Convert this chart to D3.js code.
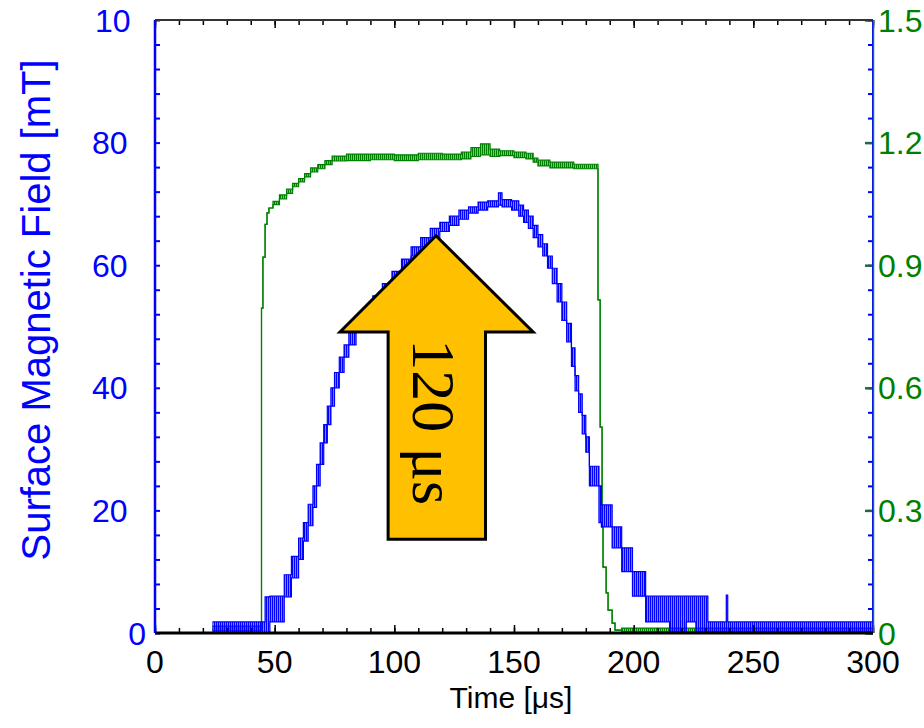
<!DOCTYPE html>
<html>
<head>
<meta charset="utf-8">
<script src="https://cdn.jsdelivr.net/npm/d3@7"></script>
<style>
  html, body { margin: 0; padding: 0; background: #fff; }
  svg { display: block; }
  text { font-family: "Liberation Sans", Arial, sans-serif; }
</style>
</head>
<body>
<svg id="chart" width="924" height="728"></svg>
<script>
// ---------------- data ----------------
// Time axis (µs)
const timeTickLabels = [0, 50, 100, 150, 200, 250, 300];
// Left axis (mT)
const leftTickLabels = [0, 20, 40, 60, 80, 100];
// Right axis
const rightTickValues = [0, 0.3, 0.6, 0.9, 1.2, 1.5];
const rightTickLabels = ["0", "0.3", "0.6", "0.9", "1.2", "1.5"];

// Surface magnetic field (mT): time, noise band low, noise band high
const blueT  = [24, 46, 48, 54, 57, 60, 62, 64, 66, 67.5, 69, 70.5, 72, 73.5, 75, 77, 79, 81, 84, 87, 91, 95, 99, 103, 107, 111, 115, 119, 123, 127, 131, 135, 139, 143.5, 145, 149, 152, 154, 156, 158, 160, 162, 164, 166, 168, 170, 172, 174, 175.5, 177, 178.5, 180, 181.5, 185.5, 186.5, 191, 195, 199.5, 205, 215, 222, 226, 231, 238.7, 239.3, 300];
const blueLo = [0, 0, 1.8, 5.9, 9, 12, 15, 17.5, 20.5, 24, 27.5, 31, 34, 37, 40, 42.5, 45, 47, 49.5, 51, 53, 55.5, 57.5, 59.5, 61.5, 63, 64.5, 65.5, 66.5, 67.5, 68.5, 69, 69.5, 69.8, 69.5, 69, 68, 67, 66, 64.5, 63, 61.5, 59.5, 57, 54, 51, 47.5, 43.5, 39.5, 36, 32.5, 29.5, 24, 18, 17.3, 13.9, 10, 6, 1.8, 0, 1.8, 0, 0, 0, 0, 0];
const blueHi = [1.8, 5.9, 6, 9.5, 12.5, 15.5, 18, 21, 24, 27.5, 31, 34, 37, 40, 42.5, 45, 47, 49.5, 51, 53, 55, 57, 59, 61, 63, 64.5, 66, 67, 68, 69, 69.5, 70.3, 70.5, 71.8, 70.7, 70.5, 69.8, 69, 68, 66.5, 65, 63.5, 61.5, 59.5, 57, 54, 50.5, 46.5, 42, 39, 35.5, 32, 27.2, 24, 20.9, 17.3, 13.9, 10, 6, 6, 6, 6, 1.8, 6.2, 1.8, 1.8];

// Second signal (right axis): time, low, high
const greenT  = [24, 44.5, 45.1, 46, 46.8, 47.6, 49.3, 52, 55, 57.5, 60, 62.5, 65, 68, 71, 74, 80, 90, 100, 110, 120, 128, 132, 136, 140, 144, 150, 155, 158, 160, 165, 175, 185.1, 186, 186.8, 187.2, 188.5, 189.3, 191, 192.2, 195, 230, 260, 300];
const greenLo = [0.005, 0.795, 0.92, 1.0, 1.028, 1.04, 1.048, 1.062, 1.076, 1.092, 1.104, 1.116, 1.128, 1.136, 1.146, 1.155, 1.156, 1.158, 1.156, 1.158, 1.158, 1.16, 1.166, 1.17, 1.166, 1.168, 1.163, 1.16, 1.152, 1.143, 1.138, 1.136, 0.815, 0.504, 0.259, 0.161, 0.098, 0.056, 0.024, 0.007, 0.003, 0.003, 0.003, 0.003];
const greenHi = [0.017, 0.795, 0.92, 1.0, 1.028, 1.04, 1.056, 1.072, 1.086, 1.1, 1.112, 1.124, 1.138, 1.146, 1.156, 1.167, 1.172, 1.172, 1.17, 1.174, 1.172, 1.177, 1.188, 1.197, 1.184, 1.18, 1.177, 1.174, 1.162, 1.157, 1.152, 1.147, 0.815, 0.504, 0.259, 0.161, 0.098, 0.056, 0.024, 0.007, 0.012, 0.012, 0.012, 0.012];

// Annotation arrow, in data units (time µs, field mT)
const arrowPts = [[117.4, 64.8], [158, 49.1], [138.1, 49.1], [138.1, 15.3], [97.4, 15.3], [97.4, 49.1], [77.3, 49.1]];
const arrowLabel = "120 μs";
const arrowLabelPos = [107.9, 34.4];

// ---------------- drawing ----------------
const svg = d3.select("#chart");
const L = 155, R = 873, T = 20, B = 633;
const x = d3.scaleLinear().domain([0, 300]).range([L, R]);
const yL = d3.scaleLinear().domain([0, 100]).range([B, T]);
const yR = d3.scaleLinear().domain([0, 1.5]).range([B, T]);

const BLUE = "#0000ff", GREEN = "#008000";

const defs = svg.append("defs");
function hatch(id, color) {
  const p = defs.append("pattern").attr("id", id).attr("patternUnits", "userSpaceOnUse")
    .attr("width", 2).attr("height", 10);
  p.append("rect").attr("x", 0).attr("y", 0).attr("width", 1.5).attr("height", 10).attr("fill", color);
}
hatch("hatchB", BLUE);
hatch("hatchG", GREEN);
defs.append("clipPath").attr("id", "leftLabClip").append("rect")
  .attr("x", 0).attr("y", 0).attr("width", 130).attr("height", 620);

const blueData = blueT.map((t, i) => ({t, lo: blueLo[i], hi: blueHi[i]}));
const greenData = greenT.map((t, i) => ({t, lo: greenLo[i], hi: greenHi[i]}));

function drawBand(data, ys, color, pat) {
  const area = d3.area().x(d => x(d.t)).y0(d => ys(d.lo)).y1(d => ys(d.hi)).curve(d3.curveStepAfter);
  svg.append("path").datum(data).attr("d", area).attr("fill", `url(#${pat})`).attr("stroke", "none");
  const lineLo = d3.line().x(d => x(d.t)).y(d => ys(d.lo)).curve(d3.curveStepAfter);
  const lineHi = d3.line().x(d => x(d.t)).y(d => ys(d.hi)).curve(d3.curveStepAfter);
  svg.append("path").datum(data).attr("d", lineLo).attr("fill", "none").attr("stroke", color).attr("stroke-width", 1.2);
  svg.append("path").datum(data).attr("d", lineHi).attr("fill", "none").attr("stroke", color).attr("stroke-width", 1.2);
}
drawBand(greenData, yR, GREEN, "hatchG");
drawBand(blueData, yL, BLUE, "hatchB");

// arrow annotation
svg.append("path")
  .attr("d", d3.line()(arrowPts.map(p => [x(p[0]), yL(p[1])])) + "Z")
  .attr("fill", "#ffc000").attr("stroke", "#000").attr("stroke-width", 3).attr("stroke-linejoin", "miter");
svg.append("text")
  .attr("transform", `translate(${x(arrowLabelPos[0])},${yL(arrowLabelPos[1])}) rotate(90)`)
  .attr("text-anchor", "middle")
  .style("font-family", "'Liberation Serif', 'Times New Roman', serif")
  .style("font-size", "62px").attr("fill", "#000")
  .text(arrowLabel);

// ---- axes ----
const minorT = d3.range(0, 301, 10);
const minorL = d3.range(0, 101, 4);
const gTop = svg.append("g").attr("transform", `translate(0,${T})`)
  .call(d3.axisTop(x).tickValues(minorT).tickSize(-5).tickFormat(""));
const gTopMaj = svg.append("g").attr("transform", `translate(0,${T})`)
  .call(d3.axisTop(x).tickValues(timeTickLabels).tickSize(-8).tickFormat(""));
const gBot = svg.append("g").attr("transform", `translate(0,${B})`)
  .call(d3.axisBottom(x).tickValues(minorT).tickSize(-5).tickFormat(""));
const gBotMaj = svg.append("g").attr("transform", `translate(0,${B})`)
  .call(d3.axisBottom(x).tickValues(timeTickLabels).tickSize(-8).tickFormat(""));
[gTop, gTopMaj, gBot, gBotMaj].forEach(g => {
  g.select(".domain").remove();
  g.selectAll(".tick line").attr("stroke", "#000").attr("stroke-width", 1.5);
});
const gLeft = svg.append("g").attr("transform", `translate(${L},0)`)
  .call(d3.axisLeft(yL).tickValues(minorL).tickSize(-5).tickFormat(""));
const gRightB = svg.append("g").attr("transform", `translate(${R},0)`)
  .call(d3.axisRight(yL).tickValues(minorL).tickSize(-5).tickFormat(""));
const gRightG = svg.append("g").attr("transform", `translate(${R},0)`)
  .call(d3.axisRight(yR).tickValues(rightTickValues).tickSize(-8).tickFormat(""));
[gLeft, gRightB].forEach(g => {
  g.select(".domain").remove();
  g.selectAll(".tick line").attr("stroke", BLUE).attr("stroke-width", 2);
});
gRightG.select(".domain").remove();
gRightG.selectAll(".tick line").attr("stroke", "#1a6a4a").attr("stroke-width", 2.5);

// axis lines
svg.append("line").attr("x1", L).attr("x2", R).attr("y1", T).attr("y2", T).attr("stroke", "#333").attr("stroke-width", 2);
svg.append("line").attr("x1", R - 0.5).attr("x2", R - 0.5).attr("y1", T).attr("y2", B).attr("stroke", BLUE).attr("stroke-width", 1);
svg.append("line").attr("x1", R + 0.5).attr("x2", R + 0.5).attr("y1", T).attr("y2", B).attr("stroke", "#1f6f5f").attr("stroke-width", 1.5);
svg.append("line").attr("x1", L).attr("x2", R).attr("y1", B).attr("y2", B).attr("stroke", "#000").attr("stroke-width", 3);
svg.append("line").attr("x1", L).attr("x2", L).attr("y1", T).attr("y2", B).attr("stroke", BLUE).attr("stroke-width", 2.5);

// tick labels
svg.append("g").selectAll("text").data(timeTickLabels).join("text")
  .attr("x", d => x(d)).attr("y", 673).attr("text-anchor", "middle")
  .style("font-size", "32px").attr("fill", "#000").text(d => d);

const gLL = svg.append("g").attr("clip-path", "url(#leftLabClip)");
gLL.selectAll("text").data(leftTickLabels.filter(d => d > 0)).join("text")
  .attr("x", d => d === 100 ? 95 : 92).attr("y", d => yL(d)).attr("dy", "0.36em")
  .style("font-size", "32px").attr("fill", BLUE).text(d => d);
svg.append("text").datum(leftTickLabels[0])
  .attr("x", 146).attr("y", d => yL(d)).attr("dy", "0.36em").attr("text-anchor", "end")
  .style("font-size", "32px").attr("fill", BLUE).text(d => d);

svg.append("g").selectAll("text").data(rightTickValues).join("text")
  .attr("x", 878).attr("y", d => yR(d)).attr("dy", "0.36em")
  .style("font-size", "32px").attr("fill", GREEN).text((d, i) => rightTickLabels[i]);

// axis titles
svg.append("text").attr("x", 511).attr("y", 708).attr("text-anchor", "middle")
  .style("font-size", "30px").attr("fill", "#000").text("Time [μs]");
const yt = svg.append("text").attr("transform", "translate(50,310) rotate(-90)")
  .attr("text-anchor", "middle").style("font-size", "40px").attr("fill", BLUE);
yt.append("tspan").text("Surface Magnetic Field");
yt.append("tspan").attr("dx", 12).text("[mT]");
</script>
</body>
</html>
